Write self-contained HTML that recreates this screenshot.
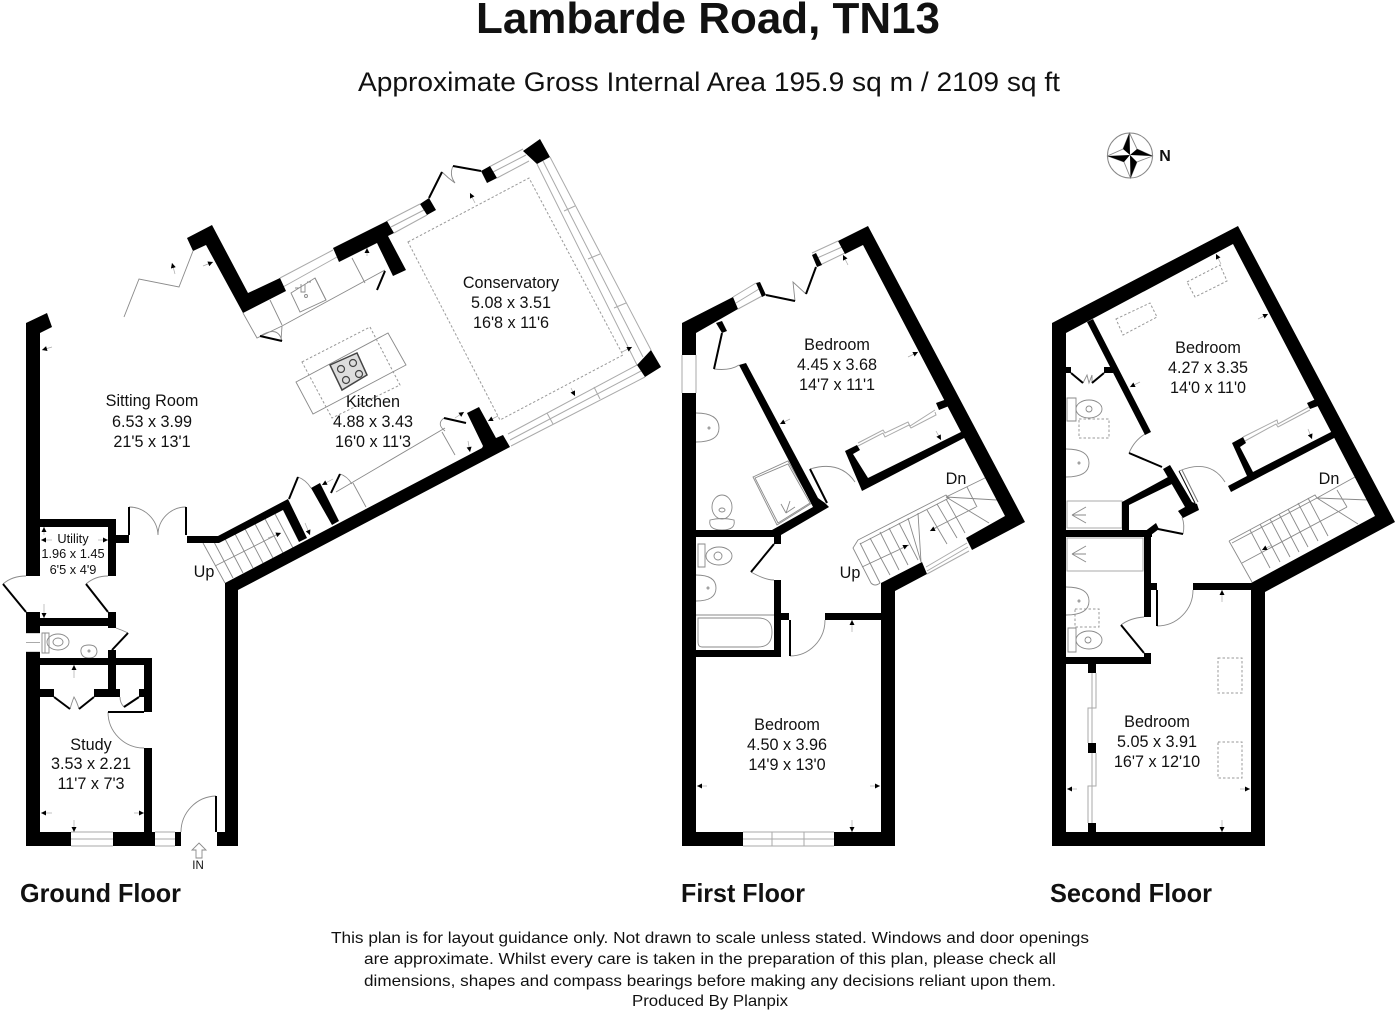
<!DOCTYPE html>
<html><head><meta charset="utf-8"><style>
html,body{margin:0;padding:0;background:#fff}
svg{display:block}
text{font-family:"Liberation Sans",sans-serif;fill:#111;text-anchor:middle}
.r{font-size:16.2px}.u{font-size:12.8px}
.b{font-weight:bold}
.t,.k,.w,.s,.dm{fill:none}
.t{stroke:#8a8a8a;stroke-width:.9}
.w{stroke:#aaa;stroke-width:1}
.k{stroke:#000;stroke-width:2}
.s{stroke:#999;stroke-width:1;stroke-dasharray:2.5 2}
.dm{stroke:#aaa;stroke-width:.7;marker-end:url(#a)}
</style></head><body>
<svg width="1400" height="1016" viewBox="0 0 1400 1016" xmlns="http://www.w3.org/2000/svg">
<defs><marker id="a" viewBox="0 0 6 6" refX="6" refY="3" markerWidth="6" markerHeight="5" orient="auto" markerUnits="userSpaceOnUse"><path d="M0 0L6 3L0 6z" fill="#000"/></marker></defs>
<rect width="1400" height="1016" fill="#fff"/>

<!-- titles -->
<text x="708" y="33" class="b" font-size="44" textLength="464" lengthAdjust="spacingAndGlyphs">Lambarde Road, TN13</text>
<text x="709" y="91" font-size="27" textLength="702" lengthAdjust="spacingAndGlyphs">Approximate Gross Internal Area 195.9 sq m / 2109 sq ft</text>

<!-- compass -->
<circle cx="1130" cy="155.500" r="22.500" fill="none" stroke="#888" stroke-width="1"/>
<path class="t" d="M1129.500 133L1137 149L1152.500 156L1137 162L1130.500 178L1124 162L1107.500 156L1123 149Z"/>
<path d="M1129.500 133L1130 155L1123 149ZM1152.500 156L1130 155L1137 149ZM1130.500 178L1130 155L1137 162ZM1107.500 156L1130 155L1124 162Z" fill="#000"/>
<text x="1165" y="161" font-size="16" class="b">N</text>

<!-- GROUND FLOOR fixtures -->
<g class="w">
<path d="M26 633H40M26 652H40M26 642.500H40M71 832H113M71 846H113M71 839H113M155 832H175M155 846H175M155 839H175"/>
<path d="M280 278L333 250M283 287L337 257M387 221L420 204M394 233L427 215M391 227L424 210M489 167L523 149M497 178L529 161M493 172L526 155"/>
<path d="M537 164L637 365M550 157L651 350M543 161L643 357M564 211L575 206M588 259L600 254M614 308L626 303"/>
<path d="M508 434L637 365M511 446L645 377M510 440L641 371M547 413L553 424M594 387L600 399"/>
</g>
<g class="t">
<path d="M193 251L179 287L139 279L124 317"/>
<path d="M243 313L257 338L282 326L385 270M270 300L282 325M352 258L365 283M315 278L326 300"/>
<path d="M291 293L315 278L326 300L300 312Z"/><circle cx="306" cy="296" r="1.500"/>
<path d="M301 284V292H305V284M295 288H299M307 282H311"/>
<path d="M260 336Q278 325 282 341M282 326L281 341"/>
<path d="M296 382L388 333L406 365L313 414Z"/>
<path d="M336 492L445 428M442 432L455 455M353 483L366 507"/>
<path d="M444 418Q436 424 445 431"/>
<path d="M298 477Q306 480 311 488M340 474Q347 476 352 484"/>
<path d="M442 172Q448 178 455 183Q449 175 453 166"/>
<path d="M129 507A29 29 0 0 1 158 535A28 28 0 0 1 186 507"/>
<path d="M3 584Q12 576 26 576M86 584Q95 576 108 576"/>
<path d="M128 633Q122 630 116 628"/>
<path d="M70 709Q72 702 74 697Q77 702 79 709"/>
<path d="M124 707Q120 703 120 697"/>
<path d="M108 712A36 36 0 0 0 144 748"/>
<path d="M181 832A36 36 0 0 1 216 796"/>
<path d="M42 633H49V653H42ZM45 633V653"/><ellipse cx="58" cy="642" rx="11" ry="8"/><ellipse cx="58" cy="642" rx="5" ry="4"/>
<path d="M81 652Q80 645 89 645Q97 645 97 652Q96 658 89 658Q82 658 81 652Z"/><circle cx="89" cy="651" r="1"/>
<path d="M199 843L206 850H202V858H196V850H192Z"/>
</g>
<path class="s" d="M408 242L529 178L623 355L500 420Z"/>
<path class="s" d="M302 362L370 327L400 385L332 418Z"/>
<!-- hob -->
<path d="M330 365L357 353L367 375L342 390Z" fill="#ddd" stroke="#444" stroke-width="1.500"/>
<g fill="none" stroke="#444" stroke-width="1.200"><circle cx="341" cy="369" r="3.500"/><circle cx="353" cy="363" r="3.500"/><circle cx="346" cy="380" r="3.500"/><circle cx="359" cy="374" r="3.500"/></g>
<!-- stairs ground -->
<g class="t">
<path d="M203 543L225 583M214 542L233 578M224 537L243 573M234 532L253 568M244 527L263 563M254 522L273 558M264 517L283 553M274 512L293 548M215 566L280 533"/>
</g>
<!-- black door leafs ground -->
<g class="k">
<path d="M129 507V535M186 507V535M3 584L26 612M86 584L108 612M128 633L112 650"/>
<path d="M54 697L70 709M94 697L79 709M139 697L124 707M108 712H144M216 796V832"/>
<path d="M260 336L282 341M385 271L377 290M298 477L289 499M340 474L331 493M444 418L466 423M481 171L453 166M442 172L429 198"/>
</g>
<!-- GROUND walls -->
<g fill="#000">
<path d="M26 323L47 313L52 327L40 333V576H26Z"/>
<path d="M187 238L212 225L248 293L280 278L286 291L243 313L206 245L193 251Z"/>
<path d="M333 248L387 221L394 233L388 236L406 270L393 276L377 243L339 262Z"/>
<path d="M420 204L429 198L436 210L427 215Z"/>
<path d="M481 171L490 166L497 178L487 183Z"/>
<path d="M523 151L540 139L550 157L537 164Z"/>
<path d="M637 365L651 350L661 367L645 377Z"/>
<path d="M467 413L479 407L496 438L503 435L510 447L238 590V846H217V832H225V583L482 448L483 446Z"/>
<path d="M311 488L320 483L339 521L332 525Z"/>
<path d="M187 536H218L288 499L307 538L299 542L283 510L219 543H187Z"/>
<rect x="40" y="519" width="76" height="8"/><rect x="108" y="519" width="8" height="57"/><rect x="116" y="535" width="13" height="8"/>
<rect x="26" y="612" width="14" height="21"/><rect x="40" y="618" width="70" height="8"/><rect x="108" y="612" width="8" height="16"/>
<rect x="26" y="652" width="14" height="194"/>
<rect x="40" y="658" width="112" height="7"/><rect x="144" y="658" width="8" height="54"/><rect x="108" y="650" width="8" height="47"/>
<rect x="40" y="689" width="14" height="8"/><rect x="94" y="689" width="26" height="8"/><rect x="139" y="689" width="5" height="8"/>
<rect x="144" y="748" width="8" height="98"/>
<rect x="26" y="832" width="45" height="14"/><rect x="113" y="832" width="42" height="14"/><rect x="175" y="832" width="6" height="14"/>
</g>
<g>
<line class="dm" x1="44" y1="535" x2="44" y2="527"/><line class="dm" x1="52" y1="540" x2="41" y2="540"/><line class="dm" x1="98" y1="540" x2="108" y2="540"/>
<line class="dm" x1="44" y1="604" x2="44" y2="618"/><line class="dm" x1="74" y1="678" x2="74" y2="665"/>
<line class="dm" x1="52" y1="813" x2="41" y2="813"/><line class="dm" x1="134" y1="813" x2="144" y2="813"/><line class="dm" x1="74" y1="820" x2="74" y2="832"/>
<line class="dm" x1="175" y1="274" x2="172" y2="263"/><line class="dm" x1="203" y1="266" x2="213" y2="262"/><line class="dm" x1="52" y1="347" x2="42" y2="350"/>
<line class="dm" x1="367" y1="256" x2="367" y2="248"/><line class="dm" x1="468" y1="441" x2="470" y2="452"/><line class="dm" x1="455" y1="418" x2="464" y2="412"/>
<line class="dm" x1="333" y1="479" x2="322" y2="485"/><line class="dm" x1="305" y1="523" x2="310" y2="535"/>
<line class="dm" x1="475" y1="203" x2="470" y2="193"/><line class="dm" x1="622" y1="352" x2="632" y2="347"/><line class="dm" x1="571" y1="388" x2="575" y2="396"/><line class="dm" x1="498" y1="416" x2="488" y2="421"/>
<line class="dm" x1="268" y1="538" x2="281" y2="533"/>
</g>

<!-- FIRST FLOOR -->
<g class="w">
<path d="M682 355V393M696 355V393"/>
<path d="M733 297L756 283M738 309L762 296M736 303L759 289M812 253L838 241M818 266L845 253M815 259L842 247"/>
<path d="M926 567L967 543M927 574L969 551M927 571L968 547"/>
<path d="M743 832H834M743 846H834M743 839H834M772 832V846M804 832V846"/>
<path d="M858 446L883 433L885 437L909 425L911 428L936 415L935 412M858 443L883 430L885 433L908 422L910 426L935 410"/>
</g>
<g class="t">
<path d="M795 301L793 282L806 294"/>
<path d="M714 369Q730 371 739 365"/>
<path d="M810 469Q840 460 855 482"/>
<path d="M753 477L788 461L812 503L777 525Z"/><path d="M755 478L788 464L810 503L778 523Z"/>
<path d="M786 513L790 501M786 513L781 504M786 513L795 507"/>
<path d="M696 413Q719 413 719 428Q719 442 696 442"/><circle cx="709" cy="428" r="1"/>
<ellipse cx="722" cy="507" rx="10" ry="12"/><ellipse cx="722" cy="510" rx="3" ry="2"/>
<path d="M710 520Q722 517 734 520Q736 530 722 530Q708 530 710 520Z"/>
<path d="M698 544H705V567H698Z"/><ellipse cx="719" cy="556" rx="13" ry="9"/><ellipse cx="718" cy="556" rx="4" ry="4"/>
<path d="M696 575Q716 575 716 588Q716 601 696 601"/><circle cx="708" cy="588" r="1"/>
<path d="M696 615H774"/><path d="M698 618H758Q772 618 772 632Q772 647 758 647H702Q698 647 698 642Z"/>
<path d="M751 572Q765 580 774 580"/>
<path d="M790 656A35 36 0 0 0 825 620"/>
</g>
<!-- stairs first -->
<g class="t">
<path d="M858 540L946 495L949 498L860 544"/>
<path d="M858 540L853 548L871 583Q875 587 880 583"/>
<path d="M860 543L880 583M870 538L890 575M880 532L899 570M889 528L908 565M899 523L918 560M908 518L921 562"/>
<path d="M918 513L921 562M927 510L947 544M937 504L957 538M946 499L965 533"/>
<path d="M862 567L909 545M931 530L976 507M967 487L977 507M946 497L987 477M946 497L997 500M946 497L989 523"/>
</g>
<g class="k">
<path d="M766 295L795 301M816 267L806 294M722 333L714 369M751 572L774 544M790 620V656M810 469L827 503"/>
</g>
<g fill="#000">
<path d="M682 323L733 297L738 309L696 333V355H682Z"/>
<rect x="682" y="393" width="14" height="453"/>
<path d="M838 241L868 226L1025 522L972 550L966 538L1005 516L863 245L845 254Z"/>
<path d="M756 283L760 282L766 295L762 297Z"/><path d="M812 255L816 253L822 265L817 267Z"/>
<path d="M716 323L722 321L727 331L722 333Z"/>
<path d="M739 365L746 363L818 498L825 503L829 507L781 535V544H774V537H696V530H772L813 507Z"/>
<path d="M845 451L857 445L860 450L853 454L868 478L963 431L966 437L862 491Z"/>
<path d="M936 403L947 399L949 406L939 410Z"/>
<path d="M922 562L927 574L895 591V846H834V832H881V583Z"/>
<rect x="774" y="580" width="7" height="77"/><rect x="781" y="613" width="8" height="7"/><rect x="825" y="613" width="56" height="7"/>
<rect x="696" y="650" width="85" height="7"/>
<rect x="696" y="832" width="47" height="14"/>
</g>
<g>
<line class="dm" x1="848" y1="265" x2="843" y2="255"/><line class="dm" x1="908" y1="357" x2="918" y2="352"/><line class="dm" x1="790" y1="419" x2="780" y2="424"/><line class="dm" x1="936" y1="431" x2="941" y2="440"/>
<line class="dm" x1="852" y1="632" x2="852" y2="620"/><line class="dm" x1="707" y1="786" x2="697" y2="786"/><line class="dm" x1="870" y1="786" x2="880" y2="786"/><line class="dm" x1="852" y1="820" x2="852" y2="832"/>
<line class="dm" x1="898" y1="550" x2="908" y2="545"/><line class="dm" x1="938" y1="527" x2="930" y2="531"/>
</g>

<!-- SECOND FLOOR -->
<g class="s">
<path d="M1116 319L1150 303L1157 317L1123 335Z"/><path d="M1187 282L1220 265L1227 281L1195 297Z"/>
<rect x="1079" y="419" width="30" height="19"/><rect x="1075" y="609" width="24" height="18"/>
<rect x="1218" y="658" width="24" height="35"/><rect x="1218" y="742" width="24" height="36"/>
</g>
<g class="w">
<path d="M1243 437L1277 420L1278 424L1309 407M1245 441L1276 424L1278 427L1310 410"/>
<path d="M1092 673V708H1088V743M1096 673V708H1092V743M1092 753V786H1088V823M1096 753V786H1092V823"/>
<path d="M1067 501H1122V528H1067ZM1067 538H1143V571H1067Z"/>
</g>
<g class="t">
<path d="M1083 383L1087 375L1089 383L1092 375L1092 383"/>
<path d="M1067 398H1076V421H1067Z"/><ellipse cx="1089" cy="409" rx="13" ry="9"/><ellipse cx="1089" cy="409" rx="3" ry="3"/>
<path d="M1066 449Q1089 449 1089 463Q1089 477 1066 477"/>
<circle cx="1079" cy="463" r="1"/>
<path d="M1086 515L1072 515M1086 507L1072 515M1086 523L1072 515"/>
<path d="M1086 554L1072 554M1086 546L1072 554M1086 562L1072 554"/>
<path d="M1066 587Q1089 587 1089 601Q1089 615 1066 615"/><circle cx="1079" cy="601" r="1"/>
<path d="M1068 628H1076V652H1068Z"/><ellipse cx="1089" cy="640" rx="13" ry="9"/><ellipse cx="1088" cy="640" rx="3" ry="3"/>
<path d="M1129 453Q1135 439 1147 433"/>
<path d="M1179 471Q1210 458 1225 482"/>
<path d="M1183 534Q1185 525 1182 517"/>
<path d="M1121 625Q1130 618 1144 617"/>
<path d="M1157 626A36 36 0 0 0 1193 590"/>
</g>
<!-- stairs second -->
<g class="t">
<path d="M1229 541L1315 495L1317 498L1232 543M1229 541L1252 582"/>
<path d="M1250 530L1270 568M1260 524L1280 562M1270 519L1290 557M1279 514L1299 552M1288 509L1308 547M1298 503L1318 541M1308 498L1328 536"/>
<path d="M1242 563L1347 507M1337 490L1347 507M1317 498L1355 477M1317 498L1368 500M1317 498L1358 524"/>
</g>
<g class="k">
<path d="M1071 373L1083 383M1104 373L1092 383M1129 453L1162 467M1158 529L1183 534M1157 590V626M1121 625L1144 653"/>
</g>
<path d="M1179 471L1195 503" fill="none" stroke="#000" stroke-width="1"/>
<path d="M1182 470L1198 502" fill="none" stroke="#777" stroke-width="1"/>
<g fill="#000">
<path fill-rule="evenodd" d="M1052 323L1238 226L1395 522L1265 592V846H1052ZM1066 333V832H1251V583L1375 516L1233 244Z"/>
<path d="M1087 322L1093 319L1151 432L1145 435Z"/>
<rect x="1066" y="367" width="5" height="6"/><rect x="1104" y="367" width="9" height="6"/>
<path d="M1122 502L1168 477L1172 484L1129 505V531H1122Z"/>
<rect x="1066" y="530" width="86" height="7"/>
<path d="M1144 532L1156 523L1159 529L1151 535V617H1144Z"/>
<rect x="1151" y="583" width="6" height="7"/><rect x="1193" y="583" width="58" height="7"/>
<path d="M1163 469L1170 465L1192 502L1197 504L1199 510L1183 518L1178 511L1185 507Z"/>
<path d="M1232 443L1243 437L1246 443L1240 447L1253 472L1333 431L1336 437L1231 492L1228 486L1247 476Z"/>
<path d="M1307 403L1316 399L1318 406L1310 409Z"/>
<rect x="1066" y="657" width="85" height="7"/><rect x="1144" y="653" width="7" height="6"/>
<rect x="1088" y="664" width="8" height="9"/><rect x="1088" y="743" width="8" height="10"/><rect x="1088" y="823" width="8" height="9"/>
</g>
<g>
<line class="dm" x1="1221" y1="264" x2="1216" y2="254"/><line class="dm" x1="1258" y1="319" x2="1268" y2="314"/><line class="dm" x1="1140" y1="382" x2="1130" y2="387"/><line class="dm" x1="1308" y1="429" x2="1312" y2="439"/>
<line class="dm" x1="1272" y1="545" x2="1262" y2="550"/><line class="dm" x1="1222" y1="602" x2="1222" y2="590"/>
<line class="dm" x1="1077" y1="789" x2="1067" y2="789"/><line class="dm" x1="1240" y1="789" x2="1250" y2="789"/><line class="dm" x1="1222" y1="820" x2="1222" y2="832"/>
</g>

<!-- labels -->
<g class="r">
<text x="152" y="406">Sitting Room</text><text x="152" y="427">6.53 x 3.99</text><text x="152" y="447">21'5 x 13'1</text>
<text x="373" y="407">Kitchen</text><text x="373" y="427">4.88 x 3.43</text><text x="373" y="447">16'0 x 11'3</text>
<text x="511" y="288">Conservatory</text><text x="511" y="308">5.08 x 3.51</text><text x="511" y="328">16'8 x 11'6</text>
<text x="91" y="750">Study</text><text x="91" y="769">3.53 x 2.21</text><text x="91" y="789">11'7 x 7'3</text>
<text x="204" y="577">Up</text>
<text x="837" y="350">Bedroom</text><text x="837" y="370">4.45 x 3.68</text><text x="837" y="390">14'7 x 11'1</text>
<text x="787" y="730">Bedroom</text><text x="787" y="750">4.50 x 3.96</text><text x="787" y="770">14'9 x 13'0</text>
<text x="850" y="578">Up</text><text x="956" y="484">Dn</text>
<text x="1208" y="353">Bedroom</text><text x="1208" y="373">4.27 x 3.35</text><text x="1208" y="393">14'0 x 11'0</text>
<text x="1157" y="727">Bedroom</text><text x="1157" y="747">5.05 x 3.91</text><text x="1157" y="767">16'7 x 12'10</text>
<text x="1329" y="484">Dn</text>
</g>
<g class="u">
<text x="73" y="543">Utility</text><text x="73" y="558">1.96 x 1.45</text><text x="73" y="574">6'5 x 4'9</text>
</g>
<text x="198" y="869" font-size="11.500">IN</text>

<text x="100.500" y="902" class="b" font-size="26" textLength="161" lengthAdjust="spacingAndGlyphs">Ground Floor</text>
<text x="743" y="902" class="b" font-size="26" textLength="124" lengthAdjust="spacingAndGlyphs">First Floor</text>
<text x="1131" y="902" class="b" font-size="26" textLength="162" lengthAdjust="spacingAndGlyphs">Second Floor</text>

<g font-size="16">
<text x="710" y="943" textLength="758" lengthAdjust="spacingAndGlyphs">This plan is for layout guidance only. Not drawn to scale unless stated. Windows and door openings</text>
<text x="710" y="964" textLength="692" lengthAdjust="spacingAndGlyphs">are approximate. Whilst every care is taken in the preparation of this plan, please check all</text>
<text x="710" y="986" textLength="692" lengthAdjust="spacingAndGlyphs">dimensions, shapes and compass bearings before making any decisions reliant upon them.</text>
<text x="710" y="1006" textLength="156" lengthAdjust="spacingAndGlyphs">Produced By Planpix</text>
</g>
</svg>
</body></html>
